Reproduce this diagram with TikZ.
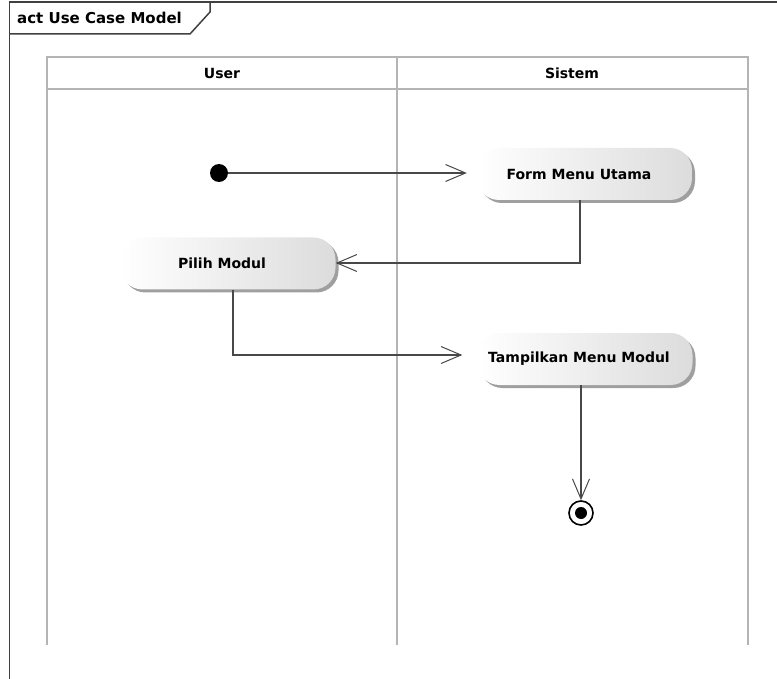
\documentclass[tikz,border=0pt]{standalone}
\usepackage{fontspec}
\setmainfont{DejaVu Sans}
\usetikzlibrary{arrows.meta,shadows}
\definecolor{framec}{HTML}{404040}
\definecolor{lanec}{HTML}{B4B4B4}
\definecolor{linkc}{HTML}{484848}
\definecolor{shadec}{HTML}{DCDCDC}
\tikzset{
  x=1pt, y=-1pt,
  framel/.style={draw=framec, line width=1.5pt},
  lanel/.style={draw=lanec, line width=2.8pt},
  txt/.style={font=\fontsize{14}{16}\selectfont\bfseries, text=black, inner sep=0pt},
  action/.style={rounded corners=22pt, minimum width=215pt, minimum height=52pt,
    left color=white, right color=shadec, shading angle=90,
    drop shadow={shadow xshift=3pt, shadow yshift=-3pt, fill=gray!75, opacity=1},
    font=\fontsize{14}{16}\selectfont\bfseries, inner sep=0pt},
  link/.style={draw=linkc, line width=1.1pt, -{Straight Barb[length=20pt,width=17pt,line width=1pt]}},
}
\begin{document}
\begin{tikzpicture}
\useasboundingbox (0,0) rectangle (777,679);
% frame
\draw[framel] (9.5,679) -- (9.5,2) -- (777,2);
\draw[framel] (9.5,34) -- (190,34) -- (210,12) -- (210,2);
\node[txt, font=\fontsize{15}{17}\selectfont\bfseries, anchor=west] (frametitle) at (17,18) {act Use Case Model};
% swimlanes
\draw[lanel] (47,645) -- (47,57) -- (748,57) -- (748,645);
\draw[lanel] (397,57) -- (397,645);
\draw[lanel] (47,89) -- (748,89);
\node[txt] (laneuser) at (222,73) {User};
\node[txt] (lanesistem) at (572,73) {Sistem};
% nodes
\node[circle, fill=black, minimum size=18pt, inner sep=0pt] (start) at (219,173) {};
\node[action] (form) at (584.5,174) {\hspace*{-11pt}Form Menu Utama};
\node[action] (pilih) at (228,263.5) {\hspace*{-12pt}Pilih Modul};
\node[action] (tampil) at (585,359) {\hspace*{-12pt}Tampilkan Menu Modul};
\node[circle, draw=black, line width=1.6pt, fill=white, minimum size=24pt, inner sep=0pt] (final) at (581,513) {};
\node[circle, fill=black, minimum size=12pt, inner sep=0pt] (finaldot) at (final) {};
% connectors
\draw[link, shorten >=10pt] (start.east) -- (form.west |- start.east);
\draw[link] ([xshift=-4.5pt]form.south) |- (pilih.east |- 0,263);
\draw[link, shorten >=15pt] ([xshift=5pt]pilih.south) |- (tampil.west |- 0,355);
\draw[link] ([xshift=-4pt]tampil.south) -- ([xshift=-4pt]tampil.south |- final.north);
\end{tikzpicture}
\end{document}
